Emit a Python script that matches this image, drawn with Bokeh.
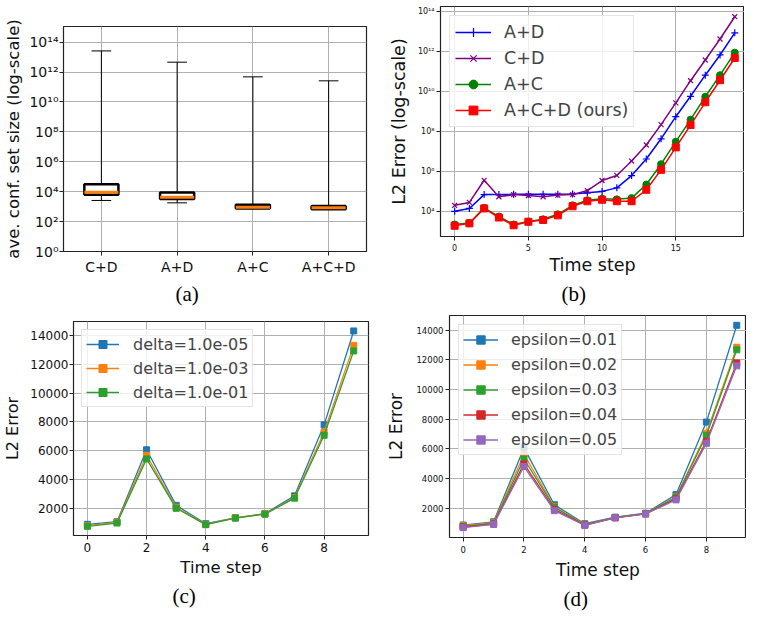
from bokeh.plotting import figure
from bokeh.models import (Range1d, FactorRange, FixedTicker, CustomJSTickFormatter,
                          Title, ColumnDataSource)
from bokeh.transform import dodge
from bokeh.layouts import column, row
from bokeh.embed import file_html
from bokeh.resources import INLINE

FONT = "DejaVu Sans"
SERIF = "Liberation Serif"
GRID = "#b0b0b0"

# ---------------- data: panel (a) box plot ----------------
box_cats = ["C+D", "A+D", "A+C", "A+C+D"]
box_lo = [2.6e3, 1.8e3, 7.6e2, 6.8e2]
box_q1 = [6.2e3, 3.3e3, 7.6e2, 6.8e2]
box_med = [9.3e3, 4.3e3, 9.1e2, 8.3e2]
box_q3 = [3.2e4, 8.9e3, 1.32e3, 1.12e3]
box_hi = [2.6e13, 4.6e12, 4.8e11, 2.6e11]
box_yticks = [1e0, 1e2, 1e4, 1e6, 1e8, 1e10, 1e12, 1e14]

# ---------------- data: panel (b) log error ----------------
steps_b = list(range(20))
err_AD = [1.0e4, 1.4e4, 6.9e4, 6.9e4, 7.1e4, 7.1e4, 7.1e4, 7.1e4, 7.4e4, 8.5e4,
          1.0e5, 1.5e5, 6.2e5, 4.2e6, 4.3e7, 5.5e8, 5.8e9, 6.6e10, 6.8e11, 8.7e12]
err_CD = [2.0e4, 2.8e4, 3.6e5, 5.4e4, 6.9e4, 6.2e4, 5.4e4, 6.5e4, 6.9e4, 1.1e5,
          3.5e5, 6.3e5, 3.3e6, 2.1e7, 2.2e8, 2.7e9, 3.5e10, 3.8e11, 4.3e12, 5.6e13]
err_AC = [2.2e3, 2.6e3, 1.5e4, 5.5e3, 2.2e3, 3.1e3, 4.0e3, 7.1e3, 2.0e4, 3.6e4,
          4.3e4, 4.0e4, 4.6e4, 2.2e5, 2.3e6, 3.1e7, 3.9e8, 5.5e9, 6.6e10, 8.9e11]
err_ACD = [1.9e3, 2.5e3, 1.4e4, 4.9e3, 2.0e3, 3.0e3, 3.7e3, 6.3e3, 1.8e4, 3.2e4,
           3.8e4, 3.2e4, 3.2e4, 1.2e5, 1.2e6, 1.6e7, 2.1e8, 2.9e9, 3.7e10, 4.8e11]
b_yticks = [1e4, 1e6, 1e8, 1e10, 1e12, 1e14]
b_xticks = [0, 5, 10, 15]

# ---------------- data: panel (c) delta ----------------
steps_c = list(range(10))
delta_labels = ["delta=1.0e-05", "delta=1.0e-03", "delta=1.0e-01"]
delta_1e5 = [886, 1068, 6068, 2205, 932, 1341, 1636, 2864, 7795, 14318]
delta_1e3 = [795, 1023, 5682, 2068, 886, 1341, 1614, 2750, 7295, 13318]
delta_1e1 = [750, 977, 5432, 2000, 864, 1318, 1591, 2705, 7068, 12932]

# ---------------- data: panel (d) epsilon ----------------
eps_labels = ["epsilon=0.01", "epsilon=0.02", "epsilon=0.03", "epsilon=0.04", "epsilon=0.05"]
eps_001 = [877, 1097, 6073, 2242, 965, 1406, 1670, 2925, 7812, 14329]
eps_002 = [833, 1031, 5633, 2110, 921, 1384, 1648, 2771, 7064, 12854]
eps_003 = [789, 987, 5325, 2066, 899, 1384, 1648, 2727, 6910, 12678]
eps_004 = [745, 943, 4994, 1934, 877, 1362, 1626, 2638, 6513, 11797]
eps_005 = [701, 921, 4818, 1846, 855, 1362, 1626, 2572, 6381, 11599]
lin_yticks = [2000, 4000, 6000, 8000, 10000, 12000, 14000]
lin_xticks = [0, 2, 4, 6, 8]

TAB = ["#1f77b4", "#ff7f0e", "#2ca02c", "#d62728", "#9467bd"]

SUP_JS = """
const sup = {"0":"\u2070","1":"\u00b9","2":"\u00b2","3":"\u00b3","4":"\u2074",
             "5":"\u2075","6":"\u2076","7":"\u2077","8":"\u2078","9":"\u2079","-":"\u207b"};
const e = Math.round(Math.log10(tick));
return "10" + String(e).split("").map(c => sup[c]).join("");
"""


def base_fig(fw, fh, left, right, top, bottom, x_range, y_range, y_type="linear"):
    p = figure(frame_width=fw, frame_height=fh, min_border_left=left, min_border_right=right,
               min_border_top=top, min_border_bottom=bottom, title=None,
               x_range=x_range, y_range=y_range, y_axis_type=y_type,
               output_backend="svg", toolbar_location=None)
    p.background_fill_color = "white"
    p.border_fill_color = "white"
    p.outline_line_color = "#222222"
    p.outline_line_width = 1.2
    p.grid.grid_line_color = GRID
    p.grid.grid_line_width = 1
    for ax in (p.xaxis[0], p.yaxis[0]):
        ax.axis_line_color = None
        ax.major_tick_in = 0
        ax.major_tick_out = 4
        ax.minor_tick_line_color = None
        ax.major_tick_line_color = "#222222"
        ax.major_label_text_font = FONT
        ax.axis_label_text_font = FONT
        ax.axis_label_text_font_style = "normal"
        ax.major_label_text_color = "#111111"
        ax.axis_label_text_color = "#111111"
    return p


def caption(p, text, offset, standoff):
    p.add_layout(Title(text=text, align="left", offset=offset, standoff=standoff,
                       text_font=SERIF, text_font_size="21px", text_font_style="normal",
                       text_color="black"), "below")


def style_legend(p, font_size, glyph_w, standoff, pad, spacing, lh, margin):
    lg = p.legend[0]
    lg.location = "top_left"
    lg.margin = margin
    lg.label_text_font = FONT
    lg.label_text_font_size = font_size
    lg.glyph_width = glyph_w
    lg.glyph_height = lh
    lg.label_height = lh
    lg.label_standoff = standoff
    lg.padding = pad
    lg.spacing = spacing
    lg.border_line_color = "#cccccc"
    lg.border_line_width = 1
    lg.background_fill_alpha = 0.8


# ================= panel (a) =================
pa = base_fig(303, 225, 63, 14, 26, 53,
              FactorRange(factors=box_cats, range_padding=0),
              Range1d(1, 1.12e15), y_type="log")
src_a = ColumnDataSource(dict(cat=box_cats, lo=box_lo, q1=box_q1, med=box_med,
                              q3=box_q3, hi=box_hi))
pa.segment(x0="cat", y0="lo", x1="cat", y1="q1", source=src_a, line_color="black", line_width=1)
pa.segment(x0="cat", y0="q3", x1="cat", y1="hi", source=src_a, line_color="black", line_width=1)
pa.segment(x0=dodge("cat", -0.13, range=pa.x_range), y0="lo",
           x1=dodge("cat", 0.13, range=pa.x_range), y1="lo", source=src_a,
           line_color="black", line_width=1)
pa.segment(x0=dodge("cat", -0.13, range=pa.x_range), y0="hi",
           x1=dodge("cat", 0.13, range=pa.x_range), y1="hi", source=src_a,
           line_color="black", line_width=1)
pa.vbar(x="cat", bottom="q1", top="q3", width=0.45, source=src_a,
        fill_color="white", line_color="black", line_width=2.5)
pa.segment(x0=dodge("cat", -0.225, range=pa.x_range), y0="med",
           x1=dodge("cat", 0.225, range=pa.x_range), y1="med", source=src_a,
           line_color="#ff7f0e", line_width=3)
pa.yaxis.ticker = FixedTicker(ticks=box_yticks)
pa.yaxis.formatter = CustomJSTickFormatter(code=SUP_JS)
pa.yaxis.axis_label = "ave. conf. set size (log-scale)"
pa.yaxis.axis_label_text_font_size = "16.5px"
pa.yaxis.major_label_text_font_size = "14px"
pa.yaxis.major_label_standoff = 1
pa.yaxis.axis_label_standoff = 3
pa.xaxis.major_label_text_font_size = "14px"
pa.xaxis.major_label_standoff = 3
caption(pa, "(a)", 112, 4)

# ================= panel (b) =================
pb = base_fig(304, 230, 60, 0, 6, 68, Range1d(-0.96, 19.66), Range1d(550, 1.82e14), y_type="log")
series_b = [("A+D", err_AD, "blue", "cross"), ("C+D", err_CD, "purple", "x"),
            ("A+C", err_AC, "green", "circle"), ("A+C+D (ours)", err_ACD, "red", "square")]
for lab, ys, col, mk in series_b:
    pb.line(steps_b, ys, line_color=col, line_width=1.5, legend_label=lab)
    if mk in ("cross", "x"):
        pb.scatter(steps_b, ys, marker=mk, size=7, line_color=col, line_width=1.2,
                   legend_label=lab)
    else:
        pb.scatter(steps_b, ys, marker=mk, size=7, fill_color=col, line_color=col,
                   legend_label=lab)
pb.yaxis.ticker = FixedTicker(ticks=b_yticks)
pb.yaxis.formatter = CustomJSTickFormatter(code=SUP_JS)
pb.xaxis.ticker = FixedTicker(ticks=b_xticks)
pb.yaxis.major_label_text_font_size = "8px"
pb.xaxis.major_label_text_font_size = "8px"
pb.yaxis.axis_label = "L2 Error (log-scale)"
pb.xaxis.axis_label = "Time step"
pb.yaxis.axis_label_text_font_size = "17.5px"
pb.xaxis.axis_label_text_font_size = "17.5px"
pb.yaxis.major_label_standoff = 2
pb.xaxis.major_label_standoff = 3
pb.yaxis.axis_label_standoff = 6
pb.xaxis.axis_label_standoff = 1
style_legend(pb, "17.5px", 36, 13, 5, 4, 22, 9)
caption(pb, "(b)", 121, 4)

# ================= panel (c) =================
pc = base_fig(295, 214, 71, 14, 14, 75, Range1d(-0.47, 9.5), Range1d(111, 14975))
series_c = [(delta_labels[0], delta_1e5, TAB[0]), (delta_labels[1], delta_1e3, TAB[1]),
            (delta_labels[2], delta_1e1, TAB[2])]
for lab, ys, col in series_c:
    pc.line(steps_c, ys, line_color=col, line_width=1.3, legend_label=lab)
    pc.scatter(steps_c, ys, marker="square", size=6, fill_color=col, line_color=col,
               legend_label=lab)
pc.yaxis.ticker = FixedTicker(ticks=lin_yticks)
pc.xaxis.ticker = FixedTicker(ticks=lin_xticks)
pc.yaxis.major_label_text_font_size = "12px"
pc.xaxis.major_label_text_font_size = "12px"
pc.yaxis.axis_label = "L2 Error"
pc.xaxis.axis_label = "Time step"
pc.yaxis.axis_label_text_font_size = "16px"
pc.xaxis.axis_label_text_font_size = "16.5px"
pc.yaxis.major_label_standoff = 1
pc.xaxis.major_label_standoff = 3
pc.yaxis.axis_label_standoff = 5
pc.xaxis.axis_label_standoff = 3
style_legend(pc, "16px", 33, 14, 4, 4, 20, 8)
caption(pc, "(c)", 99, 4)

# ================= panel (d) =================
pd_ = base_fig(297, 222, 67, 0, 8, 73, Range1d(-0.45, 9.32), Range1d(38, 14990))
series_d = [(eps_labels[0], eps_001, TAB[0]), (eps_labels[1], eps_002, TAB[1]),
            (eps_labels[2], eps_003, TAB[2]), (eps_labels[3], eps_004, TAB[3]),
            (eps_labels[4], eps_005, TAB[4])]
for lab, ys, col in series_d:
    pd_.line(steps_c, ys, line_color=col, line_width=1.3, legend_label=lab)
    pd_.scatter(steps_c, ys, marker="square", size=6, fill_color=col, line_color=col,
                legend_label=lab)
pd_.yaxis.ticker = FixedTicker(ticks=lin_yticks)
pd_.xaxis.ticker = FixedTicker(ticks=lin_xticks)
pd_.yaxis.major_label_text_font_size = "8.5px"
pd_.xaxis.major_label_text_font_size = "8.5px"
pd_.yaxis.axis_label = "L2 Error"
pd_.xaxis.axis_label = "Time step"
pd_.yaxis.axis_label_text_font_size = "17px"
pd_.xaxis.axis_label_text_font_size = "17px"
pd_.yaxis.major_label_standoff = 2
pd_.xaxis.major_label_standoff = 4
pd_.yaxis.axis_label_standoff = 7
pd_.xaxis.axis_label_standoff = 4
style_legend(pd_, "16px", 35, 13, 4, 4, 21, 9)
caption(pd_, "(d)", 114, 4)

# each plot in its own column so that Bokeh does not align their frames
top_row = row(column(pa), column(pb))
bottom_row = row(column(pc), column(pd_))
layout = column(top_row, bottom_row)
open("out.html", "w").write(file_html(layout, INLINE))
